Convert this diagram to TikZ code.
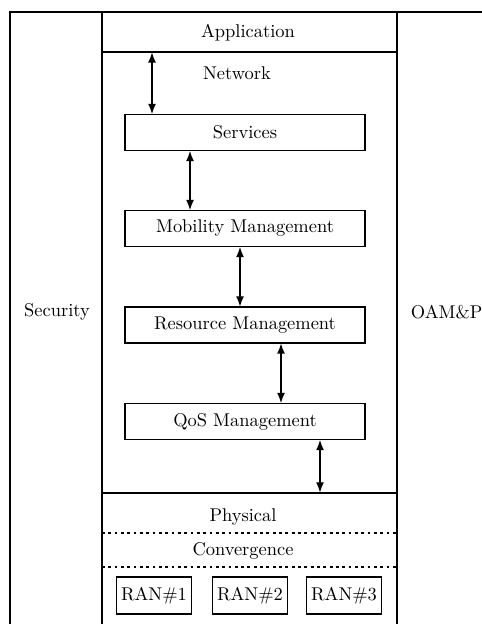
\documentclass[tikz,border=0pt]{standalone}
\usetikzlibrary{arrows.meta}
\begin{document}
\begin{tikzpicture}[x=0.02cm,y=-0.02cm,
  line width=1.1pt,
  box/.style={draw,line width=1.1pt,minimum width=4.8cm,minimum height=0.72cm,inner sep=0pt,outer sep=0pt,font=\fontsize{10.5}{12}\selectfont},
  ran/.style={draw,line width=1.1pt,minimum width=1.5cm,minimum height=0.74cm,inner sep=0pt,font=\fontsize{10.5}{12}\selectfont},
  lbl/.style={font=\fontsize{10.5}{12}\selectfont,inner sep=0pt},
  link/.style={{Latex[length=6pt,width=4.5pt]}-{Latex[length=6pt,width=4.5pt]},line width=1.1pt}]
\useasboundingbox (0,0) rectangle (482,624);
\clip (0,0) rectangle (482,624);
% frames
\draw (10,640) -- (10,12) -- (500,12);
\draw (102,640) -- (102,12);
\draw (397,640) -- (397,12);
\draw (102,52) -- (397,52);
\draw (102,493) -- (397,493);
\draw[dotted,line width=1.6pt] (102,533) -- (397,533);
\draw[dotted,line width=1.6pt] (102,567) -- (397,567);
% labels
\node[lbl] (app) at (248,33) {Application};
\node[lbl] (net) at (237,73) {Network};
\node[lbl] (sec) at (57,312) {Security};
\node[lbl,anchor=west] (oam) at (410,312) {OAM\&P};
\node[lbl] (phy) at (243,517) {Physical};
\node[lbl] (conv) at (243,551) {Convergence};
% boxes
\node[box] (svc) at (245,132.5) {Services};
\node[box] (mob) at (245,228.5) {Mobility Management};
\node[box] (res) at (245,325) {Resource Management};
\node[box] (qos) at (245,421.5) {QoS Management};
\node[ran] (r1) at (154,595.5) {RAN\#1};
\node[ran] (r2) at (250,595.5) {RAN\#2};
\node[ran] (r3) at (344,595.5) {RAN\#3};
% connectors
\coordinate (appl) at (152,52);
\coordinate (phyl) at (320,493);
\draw[link] (appl) -- (appl |- svc.north);
\draw[link] (svc.south -| 190,0) -- (mob.north -| 190,0);
\draw[link] (mob.south -| 240,0) -- (res.north -| 240,0);
\draw[link] (res.south -| 281,0) -- (qos.north -| 281,0);
\draw[link] (qos.south -| phyl) -- (phyl);
\end{tikzpicture}
\end{document}
